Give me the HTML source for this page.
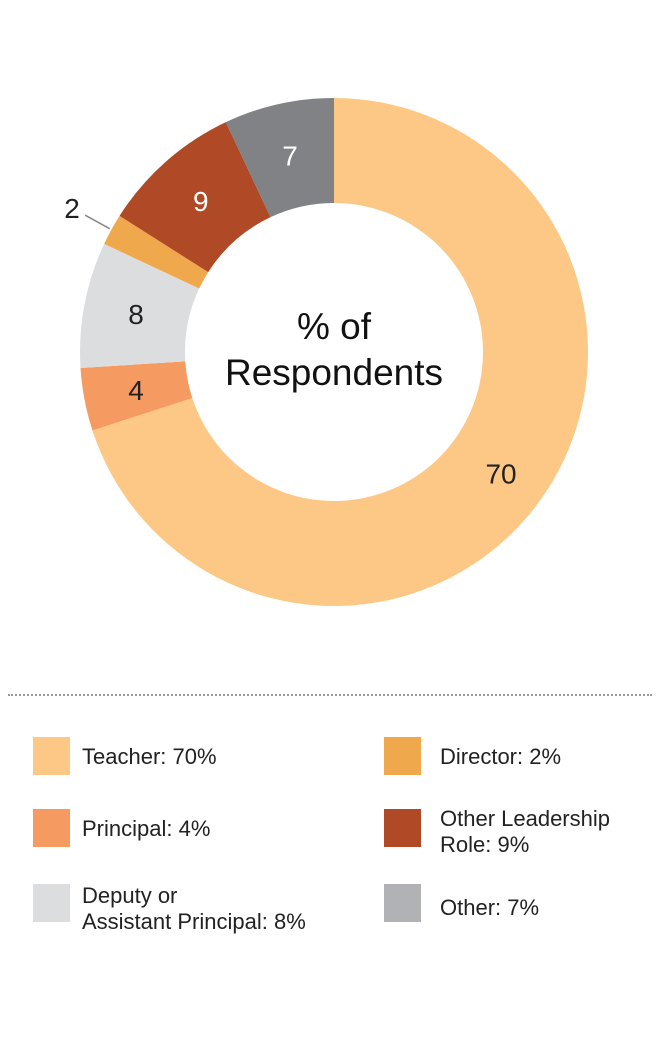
<!DOCTYPE html>
<html><head><meta charset="utf-8"><style>
body{margin:0;background:#fff;font-family:"Liberation Sans",sans-serif;}
#wrap{position:relative;width:656px;height:1048px;overflow:hidden}
.sw{position:absolute;width:37px;height:38px}
.lt{position:absolute;font-size:22px;color:#222;line-height:26px}
</style></head><body><div id="wrap">
<svg id="donut" width="656" height="660" style="position:absolute;left:0;top:0"></svg>
<div style="position:absolute;left:8px;top:694px;width:644px;border-top:2px dotted #999"></div>
<div class="sw" style="left:33px;top:737px;background:#FDC886"></div>
<div class="lt" style="left:82px;top:744px">Teacher: 70%</div>
<div class="sw" style="left:33px;top:809px;background:#F59B62"></div>
<div class="lt" style="left:82px;top:816px">Principal: 4%</div>
<div class="sw" style="left:33px;top:884px;background:#DCDDDE"></div>
<div class="lt" style="left:82px;top:883px">Deputy or<br>Assistant Principal: 8%</div>
<div class="sw" style="left:384px;top:737px;background:#F0A84C"></div>
<div class="lt" style="left:440px;top:744px">Director: 2%</div>
<div class="sw" style="left:384px;top:809px;background:#B04A26"></div>
<div class="lt" style="left:440px;top:806px">Other Leadership<br>Role: 9%</div>
<div class="sw" style="left:384px;top:884px;background:#B1B2B5"></div>
<div class="lt" style="left:440px;top:895px">Other: 7%</div>
</div>
<script>
const categories=["Teacher","Principal","Deputy or Assistant Principal","Director","Other Leadership Role","Other"];
const values=[70,4,8,2,9,7];
const colors=["#FDC886","#F59B62","#DCDDDE","#F0A84C","#B04A26","#808285"];
const labelColors=["#222","#222","#222","#222","#fff","#fff"];
const svg=document.getElementById('donut');
const NS="http://www.w3.org/2000/svg";
const cx=334,cy=352,R=254,r=149;
const total=values.reduce((a,b)=>a+b,0);
function pt(rad,a){return [cx+rad*Math.sin(a),cy-rad*Math.cos(a)];}
let acc=0;
values.forEach((v,i)=>{
  const a0=acc/total*2*Math.PI;acc+=v;const a1=acc/total*2*Math.PI;
  const lg=(a1-a0)>Math.PI?1:0;
  const [x0,y0]=pt(R,a0),[x1,y1]=pt(R,a1),[x2,y2]=pt(r,a1),[x3,y3]=pt(r,a0);
  const p=document.createElementNS(NS,'path');
  p.setAttribute('d',`M${x0},${y0}A${R},${R} 0 ${lg} 1 ${x1},${y1}L${x2},${y2}A${r},${r} 0 ${lg} 0 ${x3},${y3}Z`);
  p.setAttribute('fill',colors[i]);
  
  
  svg.appendChild(p);
  const am=(a0+a1)/2;
  const t=document.createElementNS(NS,'text');
  let lx,ly;
  if(v<3){
    const [ax,ay]=pt(R+2,am),[bx,by]=pt(R+30,am);
    const l=document.createElementNS(NS,'line');
    l.setAttribute('x1',ax);l.setAttribute('y1',ay);l.setAttribute('x2',bx);l.setAttribute('y2',by);
    l.setAttribute('stroke','#888');l.setAttribute('stroke-width','1.5');
    
    
    svg.appendChild(l);
    [lx,ly]=pt(R+45,am);
    t.setAttribute('fill','#222');
  } else {
    [lx,ly]=pt((R+r)/2+(v>50?5:0),am);
    t.setAttribute('fill',labelColors[i]);
  }
  t.setAttribute('x',lx);t.setAttribute('y',ly+10);
  t.setAttribute('text-anchor','middle');t.setAttribute('font-size','28');
  t.textContent=v;
  
  
  svg.appendChild(t);
});
["% of","Respondents"].forEach((s,k)=>{
  const t=document.createElementNS(NS,'text');
  t.setAttribute('x',cx);t.setAttribute('y',339+k*46);
  t.setAttribute('text-anchor','middle');t.setAttribute('font-size','37');t.setAttribute('fill','#111');
  t.textContent=s;
  
  
  svg.appendChild(t);
});
</script></body></html>
